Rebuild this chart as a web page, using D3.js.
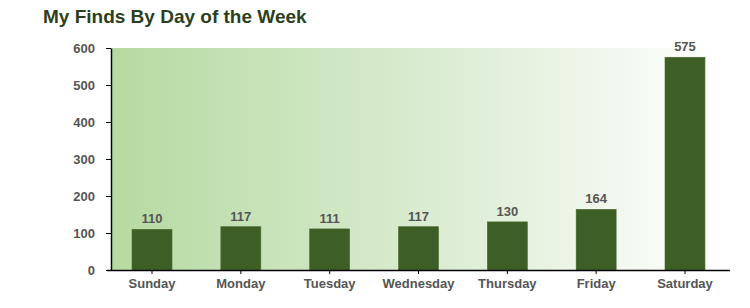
<!DOCTYPE html>
<html><head><meta charset="utf-8">
<script src="https://cdn.jsdelivr.net/npm/d3@7"></script>
<style>body{margin:0;background:#fff}svg{display:block}</style>
</head><body><svg id="c" width="750" height="308"></svg>
<script>
const categories = ["Sunday","Monday","Tuesday","Wednesday","Thursday","Friday","Saturday"];
const finds = [110,117,111,117,130,164,575];
const yTicks = [0,100,200,300,400,500,600];
const title = "My Finds By Day of the Week";

const svg = d3.select("#c");
const x = d3.scaleBand().domain(categories).range([107.6,729.4]).paddingInner(0.55).paddingOuter(0.275);
const y = d3.scaleLinear().domain([0,600]).range([270,48]);
const font = "Arial, 'Liberation Sans', sans-serif";

const defs = svg.append("defs");
const g = defs.append("linearGradient").attr("id","bg").attr("x1","0").attr("x2","1").attr("y1","0").attr("y2","0");
g.append("stop").attr("offset","0").attr("stop-color","#b6daa1");
g.append("stop").attr("offset","0.5").attr("stop-color","#d8ebcf");
g.append("stop").attr("offset","1").attr("stop-color","#ffffff");

svg.append("rect").attr("x",111).attr("y",y(600)).attr("width",720-111).attr("height",y(0)-y(600)).attr("fill","url(#bg)");

svg.append("text").attr("x",43).attr("y",23).attr("font-family",font).attr("font-size",19).attr("font-weight","bold").attr("fill","#2c3f20").text(title);

svg.selectAll("rect.bar").data(finds).join("rect").attr("class","bar")
  .attr("x",(d,i)=>x(categories[i])).attr("width",x.bandwidth())
  .attr("y",d=>y(d)).attr("height",d=>y(0)-y(d))
  .attr("fill","#3d5e24").attr("stroke","#4a6b30").attr("stroke-width",0.6);

svg.selectAll("text.val").data(finds).join("text").attr("class","val")
  .attr("x",(d,i)=>x(categories[i])+x.bandwidth()/2).attr("y",d=>y(d)-6)
  .attr("text-anchor","middle").attr("font-family",font).attr("font-size",13).attr("font-weight","bold").attr("fill","#555")
  .text(d=>d);

const yAxis = svg.append("g").attr("transform","translate(111,0)")
  .call(d3.axisLeft(y).tickValues(yTicks).tickSize(5).tickPadding(11).tickSizeOuter(0));
yAxis.select(".domain").attr("stroke","#000").attr("stroke-width",1.5);
yAxis.selectAll(".tick line").attr("stroke","#000");
yAxis.selectAll("text").attr("font-family",font).attr("font-size",13).attr("font-weight","bold").attr("fill","#555");

const xAxis = svg.append("g").attr("transform","translate(0,270)")
  .call(d3.axisBottom(x).tickSize(4).tickPadding(5).tickSizeOuter(0));
xAxis.select(".domain").attr("d","M107,0.5H730").attr("stroke","#000").attr("stroke-width",1.5);
xAxis.selectAll(".tick line").attr("stroke","#000");
xAxis.selectAll("text").attr("font-family",font).attr("font-size",13).attr("font-weight","bold").attr("fill","#555");
</script></body></html>
